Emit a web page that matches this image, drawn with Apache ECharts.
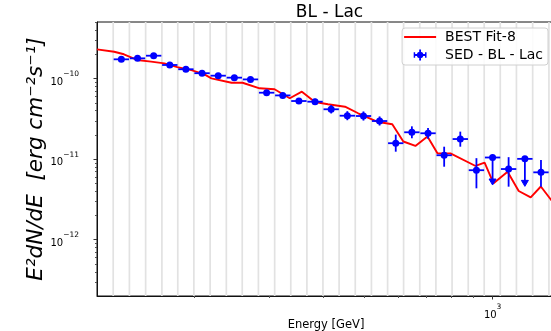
<!DOCTYPE html>
<html>
<head>
<meta charset="utf-8">
<script src="https://cdn.jsdelivr.net/npm/echarts@6/dist/echarts.min.js"></script>
<style>
  html, body { margin: 0; padding: 0; background: #ffffff; }
  #chart { width: 551px; height: 331px; }
</style>
</head>
<body>
<div id="chart"></div>
<script>
// Spectral energy distribution of BL Lac: measured flux points and best-fit model.

// Energy bin centres [GeV]
const energy = [134.9, 147.2, 160.6, 175.2, 191.1, 208.5, 227.5, 248.2, 270.8,
  295.4, 322.3, 351.6, 383.6, 418.5, 456.6, 498.1, 543.4, 592.9, 646.8,
  705.7, 769.9, 839.9, 916.3, 999.7, 1090, 1190, 1298];

// E^2 dN/dE [erg cm^-2 s^-1]
const flux = [1.74e-10, 1.79e-10, 1.93e-10, 1.48e-10, 1.31e-10, 1.17e-10, 1.09e-10, 1.03e-10, 9.8e-11,
  6.7e-11, 6.2e-11, 5.28e-11, 5.18e-11, 4.17e-11, 3.47e-11, 3.44e-11, 2.98e-11, 1.58e-11, 2.16e-11,
  2.10e-11, 1.12e-11, 1.78e-11, 7.3e-12, 1.05e-11, 7.55e-12, 1.01e-11, 6.87e-12];

// Lower / upper ends of the flux error bars (for upper limits: arrow tip / limit value)
const fluxLow = [1.66e-10, 1.70e-10, 1.84e-10, 1.40e-10, 1.24e-10, 1.11e-10, 1.03e-10, 9.7e-11, 9.2e-11,
  6.2e-11, 5.7e-11, 4.85e-11, 4.75e-11, 3.70e-11, 3.05e-11, 3.02e-11, 2.62e-11, 1.24e-11, 1.82e-11,
  1.80e-11, 8.07e-12, 1.43e-11, 4.35e-12, 4.78e-12, 4.56e-12, 4.6e-12, 4.56e-12];
const fluxHigh = [1.83e-10, 1.88e-10, 2.03e-10, 1.56e-10, 1.38e-10, 1.23e-10, 1.15e-10, 1.09e-10, 1.04e-10,
  7.2e-11, 6.7e-11, 5.75e-11, 5.65e-11, 4.70e-11, 3.95e-11, 3.92e-11, 3.40e-11, 2.02e-11, 2.56e-11,
  2.45e-11, 1.43e-11, 2.20e-11, 1.03e-11, 1.05e-11, 1.06e-11, 1.01e-11, 9.8e-12];

// 1 = upper limit
const upperLimit = [0, 0, 0, 0, 0, 0, 0, 0, 0, 0, 0, 0, 0, 0, 0, 0, 0, 0, 0, 0, 0, 0, 0, 1, 0, 1, 0];

// Half width of each energy bin in dex
const binHalfWidthDex = 0.018;

// Energy bin edges [GeV]
const binEdges = [129.1, 140.9, 153.8, 167.9, 182.9, 199.5, 217.8, 237.7, 259.0, 282.6,
  308.5, 336.5, 367.1, 400.3, 436.8, 476.6, 520.0, 567.4, 618.6, 674.9, 736.3,
  803.4, 876.6, 955.5, 1042, 1137, 1241, 1355];

// Best-fit model curve
const fitEnergy = [118.3, 129.8, 136.8, 146.8, 158.4, 170.1, 182.5, 196.8, 211.2, 219.3,
  244.5, 259.4, 284.4, 308.3, 334.7, 357.3, 383.4, 411.3, 450.9, 484.1, 536.0,
  581.9, 617.6, 659.2, 703.6, 743.0, 796.5, 912.0, 957.6, 1005, 1084, 1151,
  1228, 1297, 1377, 1445];
const fitFlux = [2.31e-10, 2.16e-10, 2.01e-10, 1.71e-10, 1.63e-10, 1.55e-10, 1.39e-10, 1.28e-10, 1.13e-10, 1.01e-10,
  8.9e-11, 8.9e-11, 7.6e-11, 7.4e-11, 5.71e-11, 6.90e-11, 5.14e-11, 4.81e-11, 4.49e-11, 3.72e-11, 2.92e-11,
  2.72e-11, 1.66e-11, 1.46e-11, 1.91e-11, 1.18e-11, 1.18e-11, 8.24e-12, 9.06e-12, 5.02e-12, 7.00e-12, 4.03e-12,
  3.36e-12, 4.58e-12, 3.03e-12, 2.69e-12];

// Axis ranges and ticks
const xMin = 118.3, xMax = 1400;
const yMin = 2.0e-13, yMax = 5.06e-10;
const xMajorTicks = [1000];
const xMajorExponents = { 1000: '3' };
const xMinorTicks = [200, 300, 400, 500, 600, 700, 800, 900];
const yMajorTicks = [1e-12, 1e-11, 1e-10];
const yMajorExponents = { '-12': '−12', '-11': '−11', '-10': '−10' };
const yMinorTicks = [3e-13, 4e-13, 5e-13, 6e-13, 7e-13, 8e-13, 9e-13,
  2e-12, 3e-12, 4e-12, 5e-12, 6e-12, 7e-12, 8e-12, 9e-12,
  2e-11, 3e-11, 4e-11, 5e-11, 6e-11, 7e-11, 8e-11, 9e-11,
  2e-10, 3e-10, 4e-10, 5e-10];

const FONT = 'DejaVu Sans';
const BLUE = '#0000ff';
const RED = '#ff0000';

const sedRows = energy.map((e, i) => [e, flux[i], fluxLow[i], fluxHigh[i], upperLimit[i]]);
const fitRows = fitEnergy.map((e, i) => [e, fitFlux[i]]);
const xFactor = Math.pow(10, binHalfWidthDex);

// Power-of-ten tick label with raised exponent
const powerRich = {
  b: { fontFamily: FONT, fontSize: 10, color: '#000', lineHeight: 17, verticalAlign: 'bottom' },
  s: { fontFamily: FONT, fontSize: 7.5, color: '#000', lineHeight: 8, verticalAlign: 'top' }
};

function renderErrorBar(params, api) {
  const e = api.value(0), f = api.value(1), lo = api.value(2), hi = api.value(3), ul = api.value(4);
  const c = api.coord([e, f]);
  const l = api.coord([e / xFactor, f]);
  const r = api.coord([e * xFactor, f]);
  const top = api.coord([e, hi]);
  const bot = api.coord([e, lo]);
  const style = { stroke: BLUE, lineWidth: 1.8, fill: null };
  const children = [
    { type: 'line', shape: { x1: l[0], y1: c[1], x2: r[0], y2: c[1] }, style: style },
    { type: 'line', shape: { x1: c[0], y1: top[1], x2: c[0], y2: ul ? bot[1] - 4 : bot[1] }, style: style }
  ];
  if (ul) {
    children.push({
      type: 'polygon',
      shape: { points: [[bot[0] - 3.5, bot[1] - 6], [bot[0] + 3.5, bot[1] - 6], [bot[0], bot[1]]] },
      style: { fill: BLUE, stroke: BLUE, lineWidth: 1 }
    });
  }
  return { type: 'group', children: children };
}

function renderGridLine(params, api) {
  const cs = params.coordSys;
  const x = api.coord([api.value(0), yMin])[0];
  return {
    type: 'line',
    shape: { x1: x, y1: cs.y, x2: x, y2: cs.y + cs.height },
    style: { stroke: '#e2e2e2', lineWidth: 1.7 },
    silent: true
  };
}

const chart = echarts.init(document.getElementById('chart'), null, { renderer: 'canvas' });

const lineIcon = 'path://M0,0 L32,0 L32,2 L0,2 Z';
const errorBarIcon = 'path://M0,6 L14,6 L14,8 L0,8 Z M6,1 L8,1 L8,13 L6,13 Z M0,4 L1.6,4 L1.6,10 L0,10 Z M12.4,4 L14,4 L14,10 L12.4,10 Z M3.5,7 A3.5,3.5 0 1 1 10.5,7 A3.5,3.5 0 1 1 3.5,7 Z';

chart.setOption({
  animation: false,
  backgroundColor: '#ffffff',
  textStyle: { fontFamily: FONT },
  title: {
    text: 'BL - Lac',
    left: 324.5,
    textAlign: 'center',
    top: -1,
    textStyle: { fontFamily: FONT, fontSize: 17, fontWeight: 'normal', color: '#000' }
  },
  legend: {
    orient: 'vertical',
    right: 3,
    top: 28,
    padding: [2, 5, 3, 2],
    itemGap: 4,
    itemWidth: 32,
    itemHeight: 11,
    backgroundColor: 'rgba(255,255,255,0.85)',
    borderColor: '#d0d0d0',
    borderWidth: 1,
    borderRadius: 3,
    textStyle: { fontFamily: FONT, fontSize: 14, color: '#000', lineHeight: 14, padding: [0, 0, 0, 4] },
    data: [
      { name: 'BEST Fit-8', icon: lineIcon },
      { name: 'SED - BL - Lac', icon: errorBarIcon }
    ]
  },
  grid: {
    left: 97, right: -4, top: 22, bottom: 35,
    outerBoundsMode: 'none',
    containLabel: false,
    show: true, borderColor: '#111', borderWidth: 1, backgroundColor: 'transparent'
  },
  xAxis: [
    {
      type: 'log', min: xMin, max: xMax, position: 'bottom',
      name: 'Energy [GeV]', nameLocation: 'middle', nameGap: 23, nameMoveOverlap: false,
      nameTextStyle: { fontFamily: FONT, fontSize: 11.5, color: '#000' },
      axisLine: { show: true, lineStyle: { color: '#111', width: 1 } },
      axisTick: { show: true, customValues: xMajorTicks, length: 3.5, lineStyle: { color: '#333' } },
      axisLabel: {
        show: true, customValues: xMajorTicks, margin: 7,
        rich: powerRich,
        formatter: v => '{b|10}{s|' + (xMajorExponents[Math.round(v)] || '') + '}'
      },
      splitLine: { show: false }, minorTick: { show: false }
    },
    {
      type: 'log', min: xMin, max: xMax, position: 'bottom',
      axisLine: { show: false },
      axisTick: { show: true, customValues: xMinorTicks, length: 2, lineStyle: { color: '#555' } },
      axisLabel: { show: false },
      splitLine: { show: false }
    }
  ],
  yAxis: [
    {
      type: 'log', min: yMin, max: yMax, position: 'left',
      name: 'E²dN/dE  [erg cm⁻²s⁻¹]', nameLocation: 'middle', nameGap: 50, nameRotate: 90,
      nameMoveOverlap: false,
      nameTextStyle: { fontFamily: FONT, fontStyle: 'italic', fontSize: 21.5, color: '#000' },
      axisLine: { show: true, lineStyle: { color: '#111', width: 1 } },
      axisTick: { show: true, customValues: yMajorTicks, length: 3.5, lineStyle: { color: '#333' } },
      axisLabel: {
        show: true, customValues: yMajorTicks, margin: 18,
        rich: powerRich,
        formatter: v => '{b|10}{s|' + (yMajorExponents[String(Math.round(Math.log10(v)))] || '') + '}'
      },
      splitLine: { show: false }
    },
    {
      type: 'log', min: yMin, max: yMax, position: 'left',
      axisLine: { show: false },
      axisTick: { show: true, customValues: yMinorTicks, length: 2, lineStyle: { color: '#555' } },
      axisLabel: { show: false },
      splitLine: { show: false }
    }
  ],
  series: [
    {
      name: 'bins',
      type: 'custom',
      xAxisIndex: 0, yAxisIndex: 0,
      renderItem: renderGridLine,
      data: binEdges.map(e => [e]),
      silent: true,
      z: 1
    },
    {
      name: 'BEST Fit-8',
      type: 'line',
      xAxisIndex: 0, yAxisIndex: 0,
      data: fitRows,
      symbol: 'none',
      clip: true,
      lineStyle: { color: RED, width: 1.9 },
      itemStyle: { color: RED },
      z: 3
    },
    {
      name: 'SED - BL - Lac',
      type: 'custom',
      xAxisIndex: 0, yAxisIndex: 0,
      renderItem: renderErrorBar,
      data: sedRows,
      itemStyle: { color: BLUE },
      clip: true,
      z: 4
    },
    {
      name: 'SED - BL - Lac',
      type: 'scatter',
      xAxisIndex: 0, yAxisIndex: 0,
      data: sedRows.map(r => [r[0], r[1]]),
      symbol: 'circle',
      symbolSize: 7,
      itemStyle: { color: BLUE, opacity: 1 },
      z: 5
    }
  ]
});
</script>
</body>
</html>
